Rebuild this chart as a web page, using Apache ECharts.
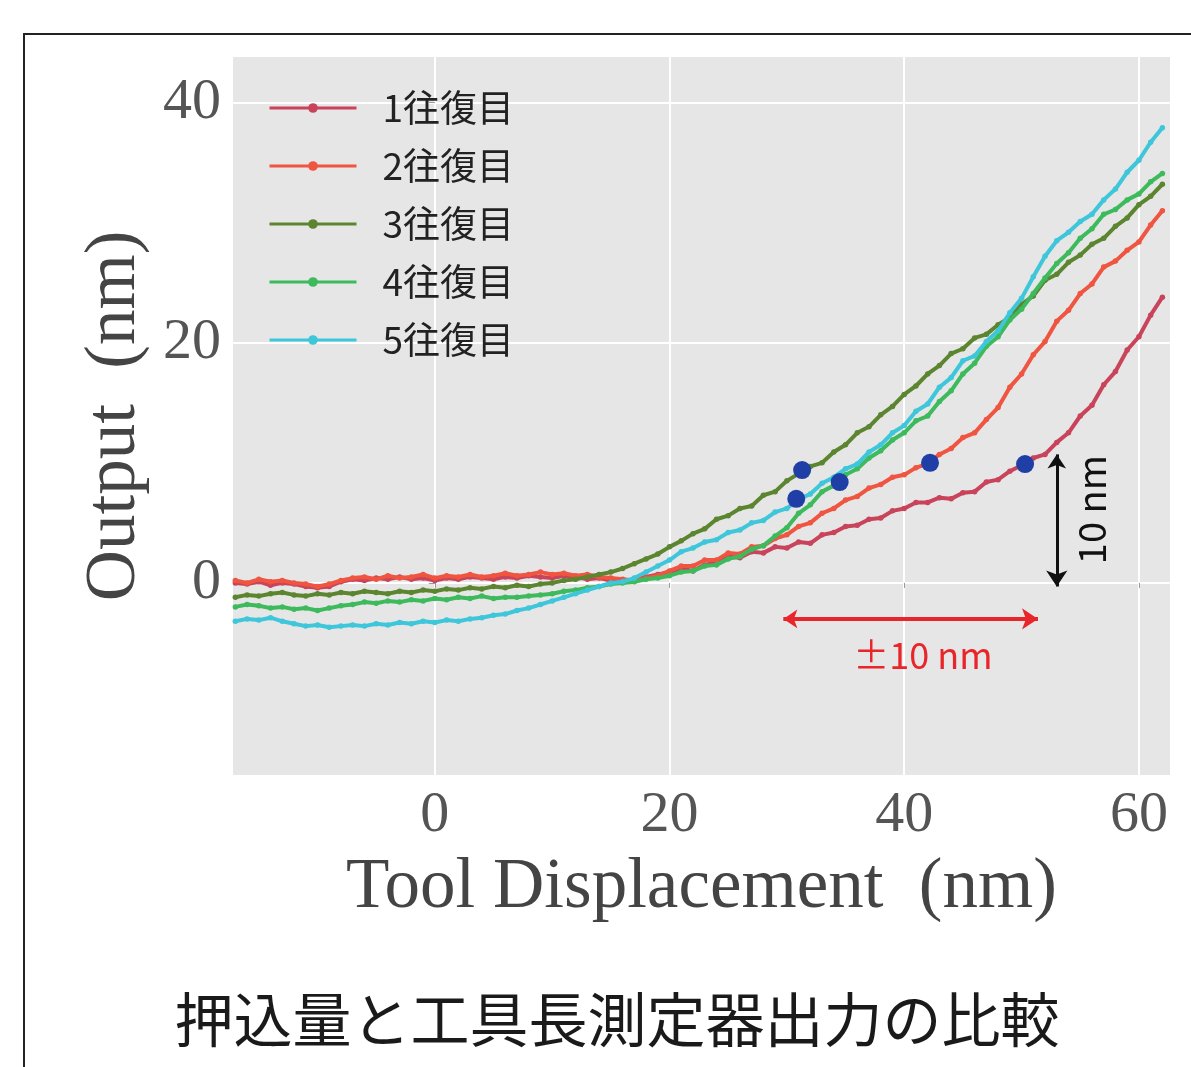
<!DOCTYPE html>
<html><head><meta charset="utf-8">
<script src="https://cdn.jsdelivr.net/npm/echarts@6/dist/echarts.min.js"></script>
<style>html,body{margin:0;padding:0;background:#fff;}#c{width:1191px;height:1067px;}</style>
</head><body><div id="c"></div>
<script>
// Tool displacement (nm)
const displacement = [-17,-16,-15,-14,-13,-12,-11,-10,-9,-8,-7,-6,-5,-4,-3,-2,-1,
  0,1,2,3,4,5,6,7,8,9,10,11,12,13,14,15,16,17,18,19,
  20,21,22,23,24,25,26,27,28,29,30,31,32,33,34,35,36,37,38,39,
  40,41,42,43,44,45,46,47,48,49,50,51,52,53,54,55,56,57,58,59,60,61,62];

const seriesNames = ['1往復目','2往復目','3往復目','4往復目','5往復目'];

const run1 = [0.0,-0.1,0.1,-0.2,0.0,-0.1,-0.3,-0.4,-0.3,0.1,0.3,0.2,0.4,0.3,0.5,0.3,0.4,
  0.2,0.4,0.3,0.5,0.4,0.3,0.5,0.4,0.6,0.5,0.4,0.6,0.5,0.3,0.4,0.2,0.1,0.3,0.5,0.7,
  0.9,1.2,1.0,1.5,1.7,2.2,2.1,2.6,2.5,3.0,2.9,3.4,3.3,4.0,4.2,4.7,4.8,5.3,5.4,6.0,
  6.2,6.7,6.7,7.1,7.0,7.5,7.6,8.4,8.6,9.3,9.8,10.4,10.7,11.7,12.5,13.9,14.8,16.5,17.6,19.4,20.5,22.3,23.8];

const run2 = [0.2,0.0,0.3,0.1,0.2,0.0,-0.1,-0.3,-0.1,0.2,0.4,0.5,0.3,0.6,0.4,0.5,0.7,
  0.4,0.6,0.5,0.7,0.5,0.6,0.8,0.6,0.7,0.9,0.7,0.8,0.6,0.7,0.5,0.4,0.3,0.2,0.4,0.6,
  1.0,1.4,1.4,1.9,1.9,2.5,2.4,3.0,3.1,3.7,4.0,4.7,5.0,5.8,6.2,6.9,7.2,7.9,8.2,8.8,
  9.0,9.6,9.9,10.7,11.2,12.1,12.5,13.6,14.6,16.3,17.4,19.0,20.1,21.8,22.7,24.1,24.9,26.3,26.8,27.7,28.4,29.8,31.0];

const run3 = [-1.2,-1.0,-1.1,-0.9,-0.8,-1.0,-1.1,-0.9,-1.0,-0.8,-0.9,-0.7,-0.8,-0.9,-0.7,-0.8,-0.6,
  -0.7,-0.5,-0.6,-0.4,-0.5,-0.3,-0.4,-0.2,-0.3,-0.1,0.0,0.2,0.3,0.5,0.7,0.9,1.2,1.6,2.0,2.4,
  3.0,3.5,4.1,4.5,5.3,5.6,6.2,6.4,7.3,7.6,8.5,9.1,9.7,10.0,10.9,11.5,12.5,13.0,14.0,14.7,
  15.7,16.4,17.4,18.1,19.1,19.5,20.4,20.7,21.5,22.1,23.2,23.9,25.2,25.7,26.7,27.3,28.2,28.7,29.7,30.4,31.5,32.2,33.2];

const run4 = [-2.0,-1.8,-1.9,-2.1,-2.0,-2.2,-2.1,-2.3,-2.1,-1.9,-1.8,-1.6,-1.7,-1.5,-1.6,-1.4,-1.5,
  -1.3,-1.4,-1.2,-1.3,-1.1,-1.3,-1.2,-1.2,-1.1,-1.0,-0.9,-0.7,-0.6,-0.4,-0.3,-0.1,0.0,0.1,0.3,0.4,
  0.6,0.9,1.0,1.4,1.5,2.0,2.2,2.8,3.1,3.9,4.6,5.8,6.5,7.6,8.1,9.0,9.5,10.4,11.0,11.9,
  12.5,13.5,13.9,15.1,16.0,17.4,18.3,19.7,20.5,21.9,22.8,24.1,25.4,26.6,27.5,28.7,29.5,30.7,31.1,31.9,32.4,33.4,34.1];

const run5 = [-3.2,-3.0,-3.1,-2.9,-3.2,-3.4,-3.6,-3.5,-3.7,-3.6,-3.5,-3.6,-3.4,-3.5,-3.3,-3.4,-3.2,
  -3.3,-3.1,-3.2,-3.0,-2.9,-2.7,-2.6,-2.3,-2.1,-1.8,-1.5,-1.2,-0.9,-0.6,-0.3,0.0,0.1,0.4,0.9,1.4,
  1.9,2.6,2.9,3.4,3.6,4.2,4.4,5.0,5.2,5.9,6.2,7.0,7.4,8.3,8.8,9.5,9.9,10.9,11.5,12.5,
  13.1,14.3,14.9,16.3,17.1,18.5,18.9,20.1,21.0,22.5,23.7,25.5,27.2,28.5,29.2,30.1,30.7,31.9,32.8,34.2,35.2,36.7,37.9];

const runs = [run1, run2, run3, run4, run5];
const colors = ['#c9445a', '#ef5540', '#5c8530', '#3dba5c', '#3ec6da'];

// Highlighted points (blue dots)
const dotX = [31.3, 30.8, 34.5, 42.2, 50.3];
const dotY = [9.4, 7.0, 8.4, 10.0, 9.9];

// Annotation arrows and their labels
const vArrow = [[53.0, 10.7], [53.0, -0.3]];
const hArrow = [[29.7, -3.0], [51.4, -3.0]];
const vLabel = {x: 56.0, y: 6.1, text: '10 nm'};
const hLabel = {x: 41.6, y: -6.0, text: '±10 nm'};

const xTicks = [0, 20, 40, 60];
const yTicks = [0, 20, 40];

const chart = echarts.init(document.getElementById('c'));
const serif = 'Liberation Serif';
const cjk = 'Noto Sans CJK JP';

const lineSeries = runs.map((r, i) => ({
  type: 'line',
  name: seriesNames[i],
  data: displacement.map((x, j) => [x, r[j]]),
  symbol: 'circle',
  symbolSize: 5.5,
  showSymbol: true,
  lineStyle: {width: 4, color: colors[i]},
  itemStyle: {color: colors[i]},
  animation: false,
  z: 2 + i
}));

chart.setOption({
  animation: false,
  backgroundColor: '#ffffff',
  grid: {left: 233, top: 57, right: 21, bottom: 292, show: true, backgroundColor: '#e6e6e6', borderWidth: 0},
  legend: {
    data: seriesNames,
    orient: 'vertical',
    left: 263, top: 83,
    itemWidth: 87, itemHeight: 12,
    itemGap: 18,
    lineStyle: {width: 3},
    textStyle: {fontFamily: cjk, fontSize: 37, color: '#222', lineHeight: 40, padding: [0, 0, 0, 21]}
  },
  xAxis: {
    type: 'value', min: -17.2, max: 62.65,
    name: 'Tool Displacement  (nm)', nameLocation: 'middle', nameGap: 78,
    nameTextStyle: {fontFamily: serif, fontSize: 71, color: '#444'},
    axisLine: {show: false},
    axisTick: {show: true, length: 5, lineStyle: {color: '#999'}, customValues: xTicks},
    axisLabel: {customValues: xTicks, fontFamily: serif, fontSize: 58, color: '#555', margin: 12},
    splitLine: {show: true, lineStyle: {color: '#ffffff', width: 2}}
  },
  yAxis: {
    type: 'value', min: -16.0, max: 43.8,
    name: 'Output  (nm)', nameLocation: 'middle', nameGap: 82,
    nameTextStyle: {fontFamily: serif, fontSize: 71, color: '#444'},
    axisLine: {show: false},
    axisTick: {show: true, length: 6, lineStyle: {color: '#999'}, customValues: yTicks},
    axisLabel: {customValues: yTicks, fontFamily: serif, fontSize: 58, color: '#555', margin: 12},
    splitLine: {show: true, lineStyle: {color: '#ffffff', width: 2}}
  },
  series: lineSeries.concat([
    {
      type: 'scatter', name: 'dots',
      data: dotX.map((x, i) => [x, dotY[i]]),
      symbolSize: 18, itemStyle: {color: '#1f3fa6', opacity: 1}, z: 20
    },
    {
      type: 'lines', coordinateSystem: 'cartesian2d', z: 20,
      symbol: ['arrow', 'arrow'], symbolSize: [14, 16],
      data: [
        {coords: vArrow, lineStyle: {color: '#111111', width: 3, opacity: 1}},
        {coords: hArrow, lineStyle: {color: '#e8262a', width: 4, opacity: 1}}
      ]
    },
    {
      type: 'scatter', name: 'labels', symbolSize: 0, z: 21,
      itemStyle: {opacity: 1},
      data: [
        {value: [vLabel.x, vLabel.y], label: {show: true, position: 'inside', formatter: vLabel.text, rotate: 90, fontFamily: cjk, fontSize: 38, color: '#111', opacity: 1}},
        {value: [hLabel.x, hLabel.y], label: {show: true, position: 'inside', formatter: hLabel.text, fontFamily: cjk, fontSize: 36, color: '#e8262a', opacity: 1}}
      ]
    }
  ]),
  graphic: [
    {type: 'rect', shape: {x: 24, y: 34, width: 1300, height: 1200}, style: {fill: 'none', stroke: '#222', lineWidth: 2}, z: 100, silent: true},
    {type: 'text', x: 617, y: 1020, style: {text: '押込量と工具長測定器出力の比較', fontFamily: cjk, fontSize: 59, fill: '#1a1a1a', textAlign: 'center', textVerticalAlign: 'middle'}, z: 100}
  ]
});
</script>
</body></html>
